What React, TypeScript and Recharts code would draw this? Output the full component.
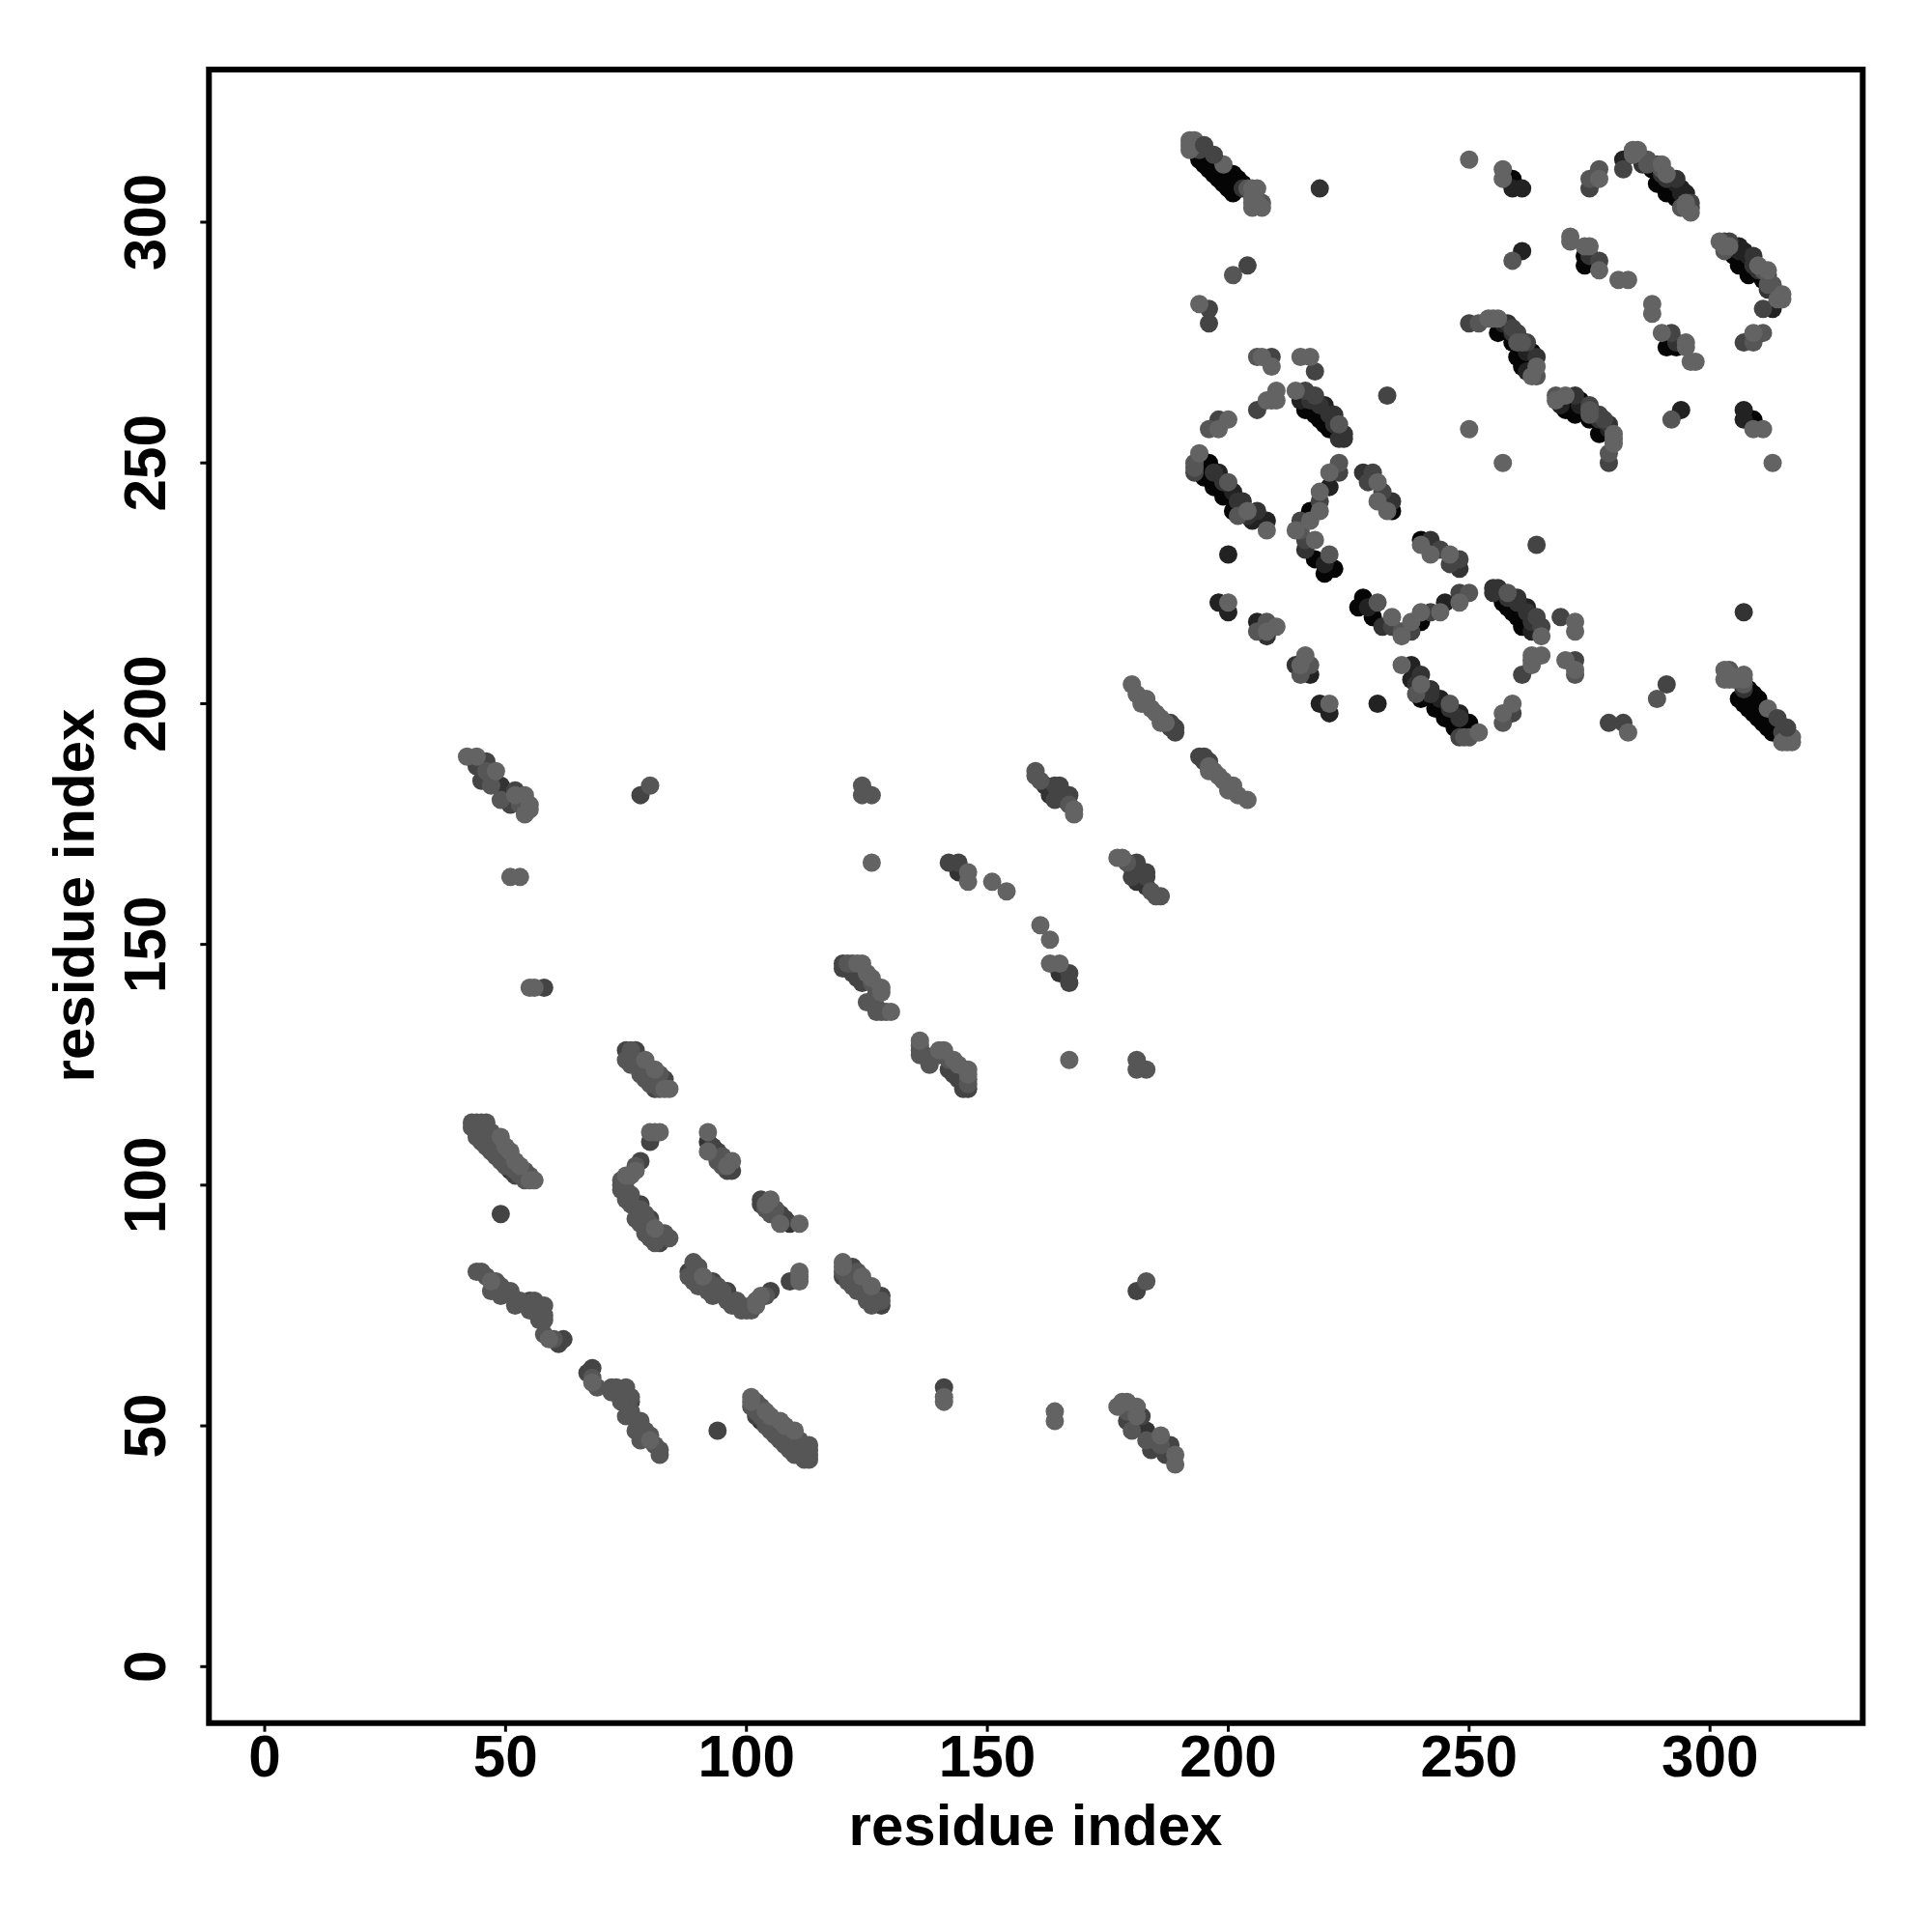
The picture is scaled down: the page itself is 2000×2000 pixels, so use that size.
import React from "react";
import {
  ScatterChart,
  Scatter,
  XAxis,
  YAxis,
  ReferenceArea,
  Label,
} from "recharts";

type Pair = [number, number];

const FONT = "'Liberation Sans', Arial, sans-serif";
const xDomain: [number, number] = [-11.57, 331.7];
const yDomain: [number, number] = [-11.72, 331.7];
const xTicks = [0, 50, 100, 150, 200, 250, 300];
const yTicks = [0, 50, 100, 150, 200, 250, 300];
const axisTitle = "residue index";

// contacts, upper half only (the map is symmetric)
const shade00: Pair[] = [
  [194, 313], [196, 311], [195, 312], [197, 310], [198, 309], [199, 308], [200, 307], [201, 306],
  [202, 307], [201, 310], [202, 309], [201, 309], [200, 308], [200, 310], [203, 308], [259, 309], [259, 308],
  [288, 311], [289, 308], [290, 309], [291, 306], [292, 307], [293, 305], [294, 305],
  [274, 293], [274, 291], [256, 277], [259, 275], [260, 272], [263, 273], [263, 272], [261, 270],
  [216, 261], [219, 259], [221, 257], [218, 260], [220, 258],
  [196, 250], [195, 249], [195, 247], [197, 245], [199, 243], [201, 240],
  [217, 240], [218, 230], [220, 227], [222, 228], [234, 240],
];
const shade22: Pair[] = [
  [259, 307], [261, 307], [282, 313], [292, 309], [293, 308], [294, 307], [261, 294], [295, 306], [294, 306],
  [257, 279], [262, 273], [262, 269], [215, 263], [220, 262], [198, 248], [205, 238], [208, 238],
  [200, 231], [198, 221], [200, 219], [206, 217], [221, 245], [220, 229], [201, 244],
];
const shade33: Pair[] = [
  [219, 307], [286, 312], [275, 293], [217, 263], [222, 260], [224, 256], [223, 255], [224, 255],
  [202, 242], [206, 240], [208, 214], [216, 232], [228, 248], [234, 242], [259, 277],
  [197, 248], [199, 246], [203, 242], [204, 239], [219, 262], [221, 260], [222, 258], [258, 279],
  [264, 272], [291, 309], [293, 309], [290, 310], [203, 307],
  [162, 183], [163, 182], [163, 181], [165, 181], [166, 180], [144, 165], [92, 109],
  [49, 183], [50, 181], [51, 103],
];
const shade44: Pair[] = [
  [194, 315], [204, 291], [196, 282], [196, 279], [275, 307], [282, 311], [289, 312],
  [296, 304], [296, 303], [277, 292], [250, 279], [259, 278], [260, 277], [262, 275], [209, 272], [218, 269], [206, 261],
  [216, 265], [218, 264], [233, 264], [193, 248], [198, 259], [223, 248], [219, 242], [215, 238],
  [216, 234], [230, 248], [229, 246], [232, 244],
  [164, 183], [165, 183], [164, 180], [167, 181], [188, 196], [188, 195], [189, 195], [189, 194],
  [142, 167], [144, 167], [58, 141], [78, 181], [46, 188], [44, 187], [45, 184], [52, 182], [51, 179],
  [49, 94], [61, 67], [62, 68], [55, 76], [77, 128], [75, 128], [83, 122], [80, 109], [78, 105],
  [78, 96], [80, 93], [82, 88], [83, 89], [93, 108], [94, 107], [96, 103], [97, 103],
  [120, 146], [120, 145], [122, 144], [123, 143], [124, 142], [52, 102], [81, 120],
];
const shade55: Pair[] = [
  [204, 307], [207, 304], [201, 289], [275, 309], [277, 311], [287, 313], [287, 312], [290, 311],
  [294, 303], [259, 292], [252, 279], [260, 275], [261, 275], [264, 268], [206, 272], [209, 263],
  [223, 258], [193, 250], [193, 249], [200, 246], [202, 239], [196, 257], [208, 217], [206, 215],
  [209, 216], [223, 250], [221, 231], [215, 236],
  [43, 113], [44, 113], [45, 113], [46, 113], [43, 112], [44, 111], [45, 110], [47, 111], [48, 110],
  [46, 109], [47, 108], [48, 107], [49, 106], [50, 105], [51, 104], [52, 103], [53, 102], [54, 103],
  [55, 102], [54, 101], [44, 110], [45, 109], [46, 108], [47, 107], [48, 106], [49, 105], [50, 104],
  [76, 128], [76, 127], [77, 126], [78, 125], [79, 124], [82, 123], [80, 122], [81, 121], [82, 120],
  [75, 126], [76, 125], [77, 125], [78, 123], [79, 123], [79, 122], [80, 121],
  [75, 101], [74, 100], [74, 101], [74, 99], [76, 98], [75, 99], [75, 97], [76, 96], [78, 95], [77, 93],
  [79, 94], [80, 92], [78, 92], [79, 90], [80, 89], [82, 90], [81, 88], [84, 89], [83, 90], [77, 104],
  [94, 105], [95, 106], [95, 104],
  [44, 82], [45, 82], [46, 81], [47, 78], [48, 80], [49, 79], [49, 77], [50, 78], [51, 78], [52, 76],
  [52, 75], [53, 76], [56, 76], [55, 74], [57, 75], [57, 73], [58, 73], [57, 72], [58, 72], [58, 75],
  [58, 69], [60, 68],
  [47, 183], [47, 185], [46, 186], [49, 180], [53, 179], [80, 183], [124, 183], [124, 181], [126, 181],
  [160, 186], [160, 185], [161, 184], [167, 179],
  [121, 146], [122, 146], [126, 142], [127, 140], [125, 138], [126, 138], [127, 137], [127, 136],
  [128, 136], [129, 136],
];
const shade66: Pair[] = [
  [192, 317], [193, 317], [193, 316], [192, 316], [192, 315], [199, 312], [205, 307],
  [206, 307], [205, 305], [205, 304], [205, 303], [207, 303], [206, 304], [194, 283], [250, 313],
  [257, 311], [257, 309], [277, 309], [285, 315], [284, 315], [284, 314], [295, 304], [296, 302],
  [295, 303], [290, 312], [291, 310], [271, 297], [271, 296], [275, 295], [274, 295], [277, 290],
  [281, 288], [283, 288], [254, 280], [255, 280], [256, 280], [264, 270], [263, 268], [250, 257],
  [207, 272], [209, 270], [215, 272], [217, 272], [208, 263], [210, 263], [210, 265], [214, 265],
  [194, 252], [204, 240], [208, 236], [198, 257], [200, 259], [200, 221], [210, 216], [208, 215],
  [221, 248], [219, 244], [219, 240], [217, 238], [214, 236], [218, 234], [231, 246], [231, 242],
  [233, 240],
  [49, 110], [50, 108], [51, 107], [52, 105], [53, 104], [55, 101], [56, 101],
  [79, 126], [81, 124], [84, 120], [83, 120], [80, 111], [81, 111], [82, 111],
  [77, 103], [76, 102], [75, 102], [81, 91], [92, 111], [92, 107], [97, 105], [96, 104],
  [47, 80], [59, 68],
  [42, 189], [44, 189], [48, 186], [52, 181], [54, 181], [55, 179], [54, 177], [55, 178],
  [168, 178], [168, 177],
  [180, 204], [181, 202], [182, 201], [183, 201], [183, 200], [182, 200], [184, 199], [185, 198],
  [186, 197], [186, 196], [187, 196],
  [51, 164], [53, 164], [55, 141], [56, 141], [126, 167], [146, 165], [146, 163], [151, 163], [154, 161],
  [123, 146], [124, 146], [125, 144], [126, 143], [128, 141], [128, 140], [130, 136],
];
// darker marks that sit on top of the lighter ones
const shadeTop: Pair[] = [[195, 316], [197, 314]];

const layers: { name: string; fill: string; points: Pair[] }[] = [
  { name: "s00", fill: "#050505", points: shade00 },
  { name: "s22", fill: "#222222", points: shade22 },
  { name: "s33", fill: "#333333", points: shade33 },
  { name: "s44", fill: "#444444", points: shade44 },
  { name: "s55", fill: "#565656", points: shade55 },
  { name: "s66", fill: "#636363", points: shade66 },
  { name: "top", fill: "#444444", points: shadeTop },
];

// both (i, j) and (j, i) are drawn
const mirrored = (points: Pair[]) =>
  points.flatMap(([x, y]) => [
    { x, y },
    { x: y, y: x },
  ]);

const XTick = (props: any) => (
  <text
    x={props.x}
    y={props.y + 44}
    textAnchor="middle"
    fontFamily={FONT}
    fontWeight="bold"
    fontSize={62}
    fill="#000"
    textLength={String(props.payload.value).length * 33.5}
    lengthAdjust="spacingAndGlyphs"
  >
    {props.payload.value}
  </text>
);

const YTick = (props: any) => (
  <text
    transform={`translate(${props.x - 34},${props.y}) rotate(-90)`}
    textAnchor="middle"
    fontFamily={FONT}
    fontWeight="bold"
    fontSize={62}
    fill="#000"
    textLength={String(props.payload.value).length * 33.5}
    lengthAdjust="spacingAndGlyphs"
  >
    {props.payload.value}
  </text>
);

const XTitle = () => (
  <text
    x={1072}
    y={1910}
    textAnchor="middle"
    fontFamily={FONT}
    fontWeight="bold"
    fontSize={60}
    fill="#000"
  >
    {axisTitle}
  </text>
);

const YTitle = () => (
  <text
    transform="translate(97,927) rotate(-90)"
    textAnchor="middle"
    fontFamily={FONT}
    fontWeight="bold"
    fontSize={60}
    fill="#000"
  >
    {axisTitle}
  </text>
);

export default function App() {
  return (
    <div style={{ position: "absolute", left: 0, top: 0, background: "#fff" }}>
      <ScatterChart
        width={2000}
        height={2000}
        margin={{ top: 72, right: 71.7, bottom: 0, left: 0 }}
      >
        <XAxis
          type="number"
          dataKey="x"
          domain={xDomain}
          ticks={xTicks}
          allowDataOverflow
          height={216.3}
          axisLine={false}
          tick={<XTick />}
          tickSize={9}
          tickLine={{ stroke: "#000", strokeWidth: 3 }}
        >
          <Label content={<XTitle />} />
        </XAxis>
        <YAxis
          type="number"
          dataKey="y"
          domain={yDomain}
          ticks={yTicks}
          allowDataOverflow
          width={216.3}
          axisLine={false}
          tick={<YTick />}
          tickSize={9}
          tickLine={{ stroke: "#000", strokeWidth: 3 }}
        >
          <Label content={<YTitle />} />
        </YAxis>
        {layers.map((layer) => (
          <Scatter
            key={layer.name}
            name={layer.name}
            data={mirrored(layer.points)}
            isAnimationActive={false}
            shape={(p: any) => <circle cx={p.cx} cy={p.cy} r={9.5} fill={layer.fill} />}
          />
        ))}
        <ReferenceArea
          x1={xDomain[0]}
          x2={xDomain[1]}
          y1={yDomain[0]}
          y2={yDomain[1]}
          ifOverflow="visible"
          fill="none"
          stroke="#000"
          strokeWidth={6}
          fillOpacity={0}
          strokeOpacity={1}
        />
      </ScatterChart>
    </div>
  );
}
